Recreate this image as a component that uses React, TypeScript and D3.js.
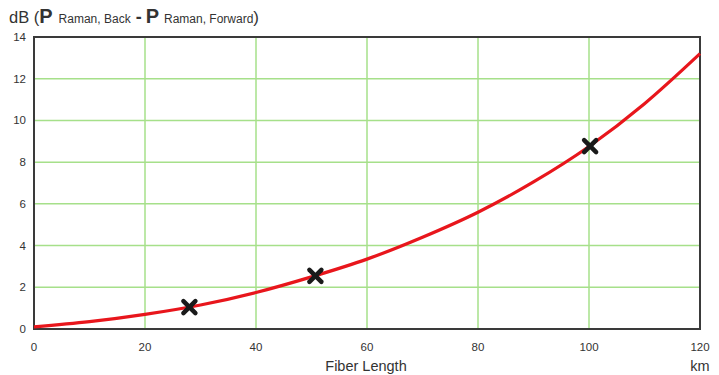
import React from "react";
import * as d3 from "d3";

const curveKm = [0, 10, 20, 30, 40, 50, 60, 70, 80, 90, 100, 110, 120];
const curveDb = [0.1, 0.35, 0.7, 1.15, 1.75, 2.5, 3.35, 4.4, 5.6, 7.05, 8.75, 10.8, 13.2];
const markKm = [28, 50.7, 100.2];
const markDb = [1.05, 2.55, 8.77];
const xTicks = [0, 20, 40, 60, 80, 100, 120];
const yTicks = [0, 2, 4, 6, 8, 10, 12, 14];

export default function App() {
  const W = 719, H = 375;
  const L = 34, R = 700, T = 37, B = 329;
  const x = d3.scaleLinear().domain([0, 120]).range([L, R]);
  const y = d3.scaleLinear().domain([0, 14]).range([B, T]);
  const line = d3
    .line<number>()
    .x((_, i) => x(curveKm[i]))
    .y((d) => y(d))
    .curve(d3.curveMonotoneX);
  const font = "Liberation Sans, Arial, sans-serif";
  const s = 6;
  return (
    <svg width={W} height={H} style={{ position: "absolute", left: 0, top: 0 }} fontFamily={font}>
      <rect width={W} height={H} fill="#fff" />
      {xTicks.slice(1, -1).map((t) => (
        <line key={"gx" + t} x1={x(t)} x2={x(t)} y1={T} y2={B} stroke="#a6e08a" strokeWidth={1.5} />
      ))}
      {yTicks.slice(1, -1).map((t) => (
        <line key={"gy" + t} x1={L} x2={R} y1={y(t)} y2={y(t)} stroke="#a6e08a" strokeWidth={1.5} />
      ))}
      <rect x={L} y={T} width={R - L} height={B - T} fill="none" stroke="#3a3a3a" strokeWidth={2} />
      <path d={line(curveDb) || ""} fill="none" stroke="#e8161c" strokeWidth={3.2} />
      {markKm.map((k, i) => {
        const cx = x(k), cy = y(markDb[i]);
        return (
          <g key={"m" + i} stroke="#1a1a1a" strokeWidth={4.5} strokeLinecap="round">
            <line x1={cx - s} y1={cy - s} x2={cx + s} y2={cy + s} />
            <line x1={cx - s} y1={cy + s} x2={cx + s} y2={cy - s} />
          </g>
        );
      })}
      {yTicks.map((t) => (
        <text key={"yt" + t} x={26} y={y(t) + 4} textAnchor="end" fontSize={11.5} fill="#333">
          {t}
        </text>
      ))}
      {xTicks.map((t) => (
        <text key={"xt" + t} x={x(t)} y={351} textAnchor="middle" fontSize={11.5} fill="#333">
          {t}
        </text>
      ))}
      <text x={366} y={371} textAnchor="middle" fontSize={14.5} fill="#333">
        Fiber Length
      </text>
      <text x={700} y={371} textAnchor="middle" fontSize={14.5} fill="#333">
        km
      </text>
      <text x={9} y={23} fill="#333">
        <tspan fontSize={16.5}>dB (</tspan>
        <tspan fontSize={20} fontWeight="bold">P</tspan>
        <tspan fontSize={12} dx={6}>Raman, Back</tspan>
        <tspan fontSize={18} fontWeight="bold" dx={5}>-</tspan>
        <tspan fontSize={20} fontWeight="bold" dx={4}>P</tspan>
        <tspan fontSize={12} dx={5}>Raman, Forward</tspan>
        <tspan fontSize={17}>)</tspan>
      </text>
    </svg>
  );
}
